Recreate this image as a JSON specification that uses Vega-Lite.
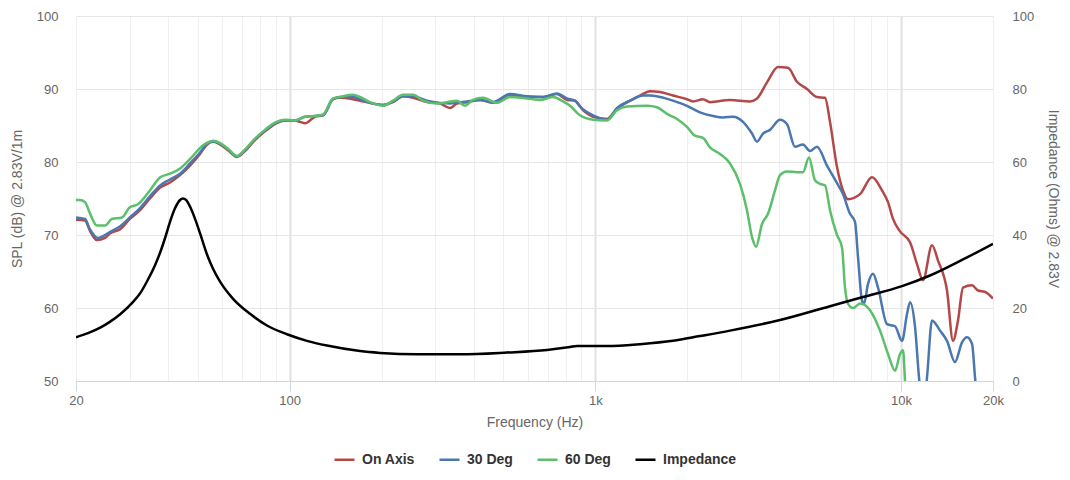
{
  "$schema": "https://vega.github.io/schema/vega-lite/v6.json",
  "width": 917,
  "height": 365,
  "autosize": {"type": "none"},
  "padding": {"left": 76, "top": 16, "right": 77, "bottom": 99},
  "config": {
    "font": "Liberation Sans",
    "view": {"stroke": null},
    "axis": {"labelColor": "#666666", "titleColor": "#666666", "labelFontSize": 13, "titleFontSize": 14, "titleFontWeight": "normal"}
  },
  "datasets": {
    "spl": [
      {"series": "On Axis", "freq": 20, "db": 72.1},
      {"series": "On Axis", "freq": 21.4, "db": 72.0},
      {"series": "On Axis", "freq": 22.2, "db": 70.6},
      {"series": "On Axis", "freq": 23.4, "db": 69.3},
      {"series": "On Axis", "freq": 24.9, "db": 69.6},
      {"series": "On Axis", "freq": 25.8, "db": 70.2},
      {"series": "On Axis", "freq": 27.9, "db": 70.8},
      {"series": "On Axis", "freq": 30.0, "db": 72.2},
      {"series": "On Axis", "freq": 32.4, "db": 73.4},
      {"series": "On Axis", "freq": 34.9, "db": 75.0},
      {"series": "On Axis", "freq": 37.7, "db": 76.5},
      {"series": "On Axis", "freq": 40.6, "db": 77.2},
      {"series": "On Axis", "freq": 43.8, "db": 78.2},
      {"series": "On Axis", "freq": 47.2, "db": 79.5},
      {"series": "On Axis", "freq": 50.9, "db": 81.1},
      {"series": "On Axis", "freq": 53.7, "db": 82.4},
      {"series": "On Axis", "freq": 56.1, "db": 82.8},
      {"series": "On Axis", "freq": 59.2, "db": 82.4},
      {"series": "On Axis", "freq": 62.9, "db": 81.6},
      {"series": "On Axis", "freq": 67.3, "db": 80.7},
      {"series": "On Axis", "freq": 71.4, "db": 81.5},
      {"series": "On Axis", "freq": 77.0, "db": 83.0},
      {"series": "On Axis", "freq": 83.0, "db": 84.2},
      {"series": "On Axis", "freq": 89.5, "db": 85.2},
      {"series": "On Axis", "freq": 96.5, "db": 85.7},
      {"series": "On Axis", "freq": 104.1, "db": 85.7},
      {"series": "On Axis", "freq": 108.1, "db": 85.5},
      {"series": "On Axis", "freq": 112.3, "db": 85.3},
      {"series": "On Axis", "freq": 121, "db": 86.2},
      {"series": "On Axis", "freq": 128.6, "db": 86.4},
      {"series": "On Axis", "freq": 138.6, "db": 88.6},
      {"series": "On Axis", "freq": 146.1, "db": 88.8},
      {"series": "On Axis", "freq": 161.1, "db": 88.6},
      {"series": "On Axis", "freq": 169.9, "db": 88.4},
      {"series": "On Axis", "freq": 187.3, "db": 88.0},
      {"series": "On Axis", "freq": 202, "db": 87.8},
      {"series": "On Axis", "freq": 217.8, "db": 88.2},
      {"series": "On Axis", "freq": 234.9, "db": 89.0},
      {"series": "On Axis", "freq": 253.3, "db": 88.8},
      {"series": "On Axis", "freq": 281.4, "db": 88.2},
      {"series": "On Axis", "freq": 310.4, "db": 88.0},
      {"series": "On Axis", "freq": 334.6, "db": 87.4},
      {"series": "On Axis", "freq": 352.7, "db": 88.0},
      {"series": "On Axis", "freq": 380.3, "db": 88.2},
      {"series": "On Axis", "freq": 419.4, "db": 88.5},
      {"series": "On Axis", "freq": 462.6, "db": 88.1},
      {"series": "On Axis", "freq": 525.7, "db": 89.2},
      {"series": "On Axis", "freq": 597.7, "db": 88.9},
      {"series": "On Axis", "freq": 674.3, "db": 88.9},
      {"series": "On Axis", "freq": 749.3, "db": 89.3},
      {"series": "On Axis", "freq": 807.9, "db": 88.5},
      {"series": "On Axis", "freq": 858, "db": 88.4},
      {"series": "On Axis", "freq": 911.1, "db": 87.1},
      {"series": "On Axis", "freq": 982.7, "db": 86.2},
      {"series": "On Axis", "freq": 1092, "db": 85.9},
      {"series": "On Axis", "freq": 1178, "db": 87.3},
      {"series": "On Axis", "freq": 1299, "db": 88.4},
      {"series": "On Axis", "freq": 1400, "db": 89.1},
      {"series": "On Axis", "freq": 1509, "db": 89.7},
      {"series": "On Axis", "freq": 1628, "db": 89.6},
      {"series": "On Axis", "freq": 1795, "db": 89.1},
      {"series": "On Axis", "freq": 1995, "db": 88.6},
      {"series": "On Axis", "freq": 2087, "db": 88.3},
      {"series": "On Axis", "freq": 2250, "db": 88.6},
      {"series": "On Axis", "freq": 2372, "db": 88.2},
      {"series": "On Axis", "freq": 2758, "db": 88.5},
      {"series": "On Axis", "freq": 3206, "db": 88.3},
      {"series": "On Axis", "freq": 3381, "db": 88.7},
      {"series": "On Axis", "freq": 3644, "db": 90.9},
      {"series": "On Axis", "freq": 3960, "db": 93.0},
      {"series": "On Axis", "freq": 4268, "db": 92.9},
      {"series": "On Axis", "freq": 4568, "db": 91.0},
      {"series": "On Axis", "freq": 4927, "db": 90.0},
      {"series": "On Axis", "freq": 5312, "db": 88.9},
      {"series": "On Axis", "freq": 5642, "db": 88.8},
      {"series": "On Axis", "freq": 5858, "db": 85.5},
      {"series": "On Axis", "freq": 6176, "db": 79.3},
      {"series": "On Axis", "freq": 6460, "db": 76.1},
      {"series": "On Axis", "freq": 6709, "db": 74.9},
      {"series": "On Axis", "freq": 7344, "db": 75.6},
      {"series": "On Axis", "freq": 8039, "db": 77.9},
      {"series": "On Axis", "freq": 8670, "db": 76.1},
      {"series": "On Axis", "freq": 9070, "db": 74.5},
      {"series": "On Axis", "freq": 9418, "db": 72.2},
      {"series": "On Axis", "freq": 9929, "db": 70.5},
      {"series": "On Axis", "freq": 10706, "db": 69.0},
      {"series": "On Axis", "freq": 11284, "db": 66.0},
      {"series": "On Axis", "freq": 11804, "db": 63.8},
      {"series": "On Axis", "freq": 12632, "db": 68.6},
      {"series": "On Axis", "freq": 13217, "db": 66.5},
      {"series": "On Axis", "freq": 14144, "db": 62.4},
      {"series": "On Axis", "freq": 14797, "db": 55.5},
      {"series": "On Axis", "freq": 15366, "db": 58.3},
      {"series": "On Axis", "freq": 15954, "db": 62.8},
      {"series": "On Axis", "freq": 17076, "db": 63.1},
      {"series": "On Axis", "freq": 17864, "db": 62.4},
      {"series": "On Axis", "freq": 18830, "db": 62.2},
      {"series": "On Axis", "freq": 20000, "db": 61.3},

      {"series": "30 Deg", "freq": 20, "db": 72.4},
      {"series": "30 Deg", "freq": 21.4, "db": 72.2},
      {"series": "30 Deg", "freq": 22.2, "db": 70.8},
      {"series": "30 Deg", "freq": 23.6, "db": 69.6},
      {"series": "30 Deg", "freq": 25.8, "db": 70.4},
      {"series": "30 Deg", "freq": 27.9, "db": 71.2},
      {"series": "30 Deg", "freq": 30.0, "db": 72.4},
      {"series": "30 Deg", "freq": 32.4, "db": 73.7},
      {"series": "30 Deg", "freq": 34.9, "db": 75.3},
      {"series": "30 Deg", "freq": 37.7, "db": 76.8},
      {"series": "30 Deg", "freq": 40.6, "db": 77.6},
      {"series": "30 Deg", "freq": 43.8, "db": 78.4},
      {"series": "30 Deg", "freq": 47.2, "db": 79.8},
      {"series": "30 Deg", "freq": 50.9, "db": 81.3},
      {"series": "30 Deg", "freq": 53.7, "db": 82.5},
      {"series": "30 Deg", "freq": 56.1, "db": 82.8},
      {"series": "30 Deg", "freq": 59.2, "db": 82.5},
      {"series": "30 Deg", "freq": 62.9, "db": 81.7},
      {"series": "30 Deg", "freq": 67.3, "db": 80.8},
      {"series": "30 Deg", "freq": 71.4, "db": 81.6},
      {"series": "30 Deg", "freq": 77.0, "db": 83.1},
      {"series": "30 Deg", "freq": 83.0, "db": 84.3},
      {"series": "30 Deg", "freq": 89.5, "db": 85.3},
      {"series": "30 Deg", "freq": 96.5, "db": 85.7},
      {"series": "30 Deg", "freq": 104.1, "db": 85.7},
      {"series": "30 Deg", "freq": 112.3, "db": 86.2},
      {"series": "30 Deg", "freq": 121, "db": 86.3},
      {"series": "30 Deg", "freq": 128.6, "db": 86.4},
      {"series": "30 Deg", "freq": 138.6, "db": 88.6},
      {"series": "30 Deg", "freq": 146.1, "db": 88.9},
      {"series": "30 Deg", "freq": 161.1, "db": 88.9},
      {"series": "30 Deg", "freq": 169.9, "db": 88.6},
      {"series": "30 Deg", "freq": 187.3, "db": 88.0},
      {"series": "30 Deg", "freq": 202, "db": 87.8},
      {"series": "30 Deg", "freq": 217.8, "db": 88.3},
      {"series": "30 Deg", "freq": 234.9, "db": 89.0},
      {"series": "30 Deg", "freq": 253.3, "db": 89.0},
      {"series": "30 Deg", "freq": 281.4, "db": 88.4},
      {"series": "30 Deg", "freq": 310.4, "db": 88.1},
      {"series": "30 Deg", "freq": 334.6, "db": 88.0},
      {"series": "30 Deg", "freq": 352.7, "db": 88.1},
      {"series": "30 Deg", "freq": 380.3, "db": 88.3},
      {"series": "30 Deg", "freq": 419.4, "db": 88.5},
      {"series": "30 Deg", "freq": 462.6, "db": 88.2},
      {"series": "30 Deg", "freq": 525.7, "db": 89.3},
      {"series": "30 Deg", "freq": 597.7, "db": 89.0},
      {"series": "30 Deg", "freq": 674.3, "db": 88.9},
      {"series": "30 Deg", "freq": 749.3, "db": 89.4},
      {"series": "30 Deg", "freq": 807.9, "db": 88.7},
      {"series": "30 Deg", "freq": 858, "db": 88.4},
      {"series": "30 Deg", "freq": 890.8, "db": 87.6},
      {"series": "30 Deg", "freq": 982.7, "db": 86.4},
      {"series": "30 Deg", "freq": 1092, "db": 85.8},
      {"series": "30 Deg", "freq": 1178, "db": 87.4},
      {"series": "30 Deg", "freq": 1299, "db": 88.4},
      {"series": "30 Deg", "freq": 1432, "db": 89.1},
      {"series": "30 Deg", "freq": 1509, "db": 89.1},
      {"series": "30 Deg", "freq": 1628, "db": 88.9},
      {"series": "30 Deg", "freq": 1795, "db": 88.4},
      {"series": "30 Deg", "freq": 1995, "db": 87.7},
      {"series": "30 Deg", "freq": 2200, "db": 86.8},
      {"series": "30 Deg", "freq": 2427, "db": 86.3},
      {"series": "30 Deg", "freq": 2616, "db": 86.1},
      {"series": "30 Deg", "freq": 2821, "db": 86.2},
      {"series": "30 Deg", "freq": 3042, "db": 85.5},
      {"series": "30 Deg", "freq": 3256, "db": 83.9},
      {"series": "30 Deg", "freq": 3381, "db": 82.8},
      {"series": "30 Deg", "freq": 3537, "db": 83.9},
      {"series": "30 Deg", "freq": 3728, "db": 84.4},
      {"series": "30 Deg", "freq": 4020, "db": 85.8},
      {"series": "30 Deg", "freq": 4237, "db": 85.2},
      {"series": "30 Deg", "freq": 4499, "db": 82.1},
      {"series": "30 Deg", "freq": 4780, "db": 82.4},
      {"series": "30 Deg", "freq": 5038, "db": 81.5},
      {"series": "30 Deg", "freq": 5312, "db": 82.1},
      {"series": "30 Deg", "freq": 5728, "db": 79.5},
      {"series": "30 Deg", "freq": 6176, "db": 77.1},
      {"series": "30 Deg", "freq": 6460, "db": 75.6},
      {"series": "30 Deg", "freq": 6811, "db": 72.9},
      {"series": "30 Deg", "freq": 7072, "db": 71.8},
      {"series": "30 Deg", "freq": 7234, "db": 67.0},
      {"series": "30 Deg", "freq": 7456, "db": 61.0},
      {"series": "30 Deg", "freq": 7569, "db": 60.6},
      {"series": "30 Deg", "freq": 7800, "db": 63.3},
      {"series": "30 Deg", "freq": 8100, "db": 64.7},
      {"series": "30 Deg", "freq": 8412, "db": 62.8},
      {"series": "30 Deg", "freq": 9001, "db": 57.8},
      {"series": "30 Deg", "freq": 9561, "db": 57.5},
      {"series": "30 Deg", "freq": 10080, "db": 55.5},
      {"series": "30 Deg", "freq": 10467, "db": 59.2},
      {"series": "30 Deg", "freq": 10706, "db": 60.8},
      {"series": "30 Deg", "freq": 11117, "db": 57.4},
      {"series": "30 Deg", "freq": 11454, "db": 50.5},
      {"series": "30 Deg", "freq": 11804, "db": 46.0},
      {"series": "30 Deg", "freq": 12166, "db": 50.5},
      {"series": "30 Deg", "freq": 12632, "db": 58.3},
      {"series": "30 Deg", "freq": 13418, "db": 56.9},
      {"series": "30 Deg", "freq": 14144, "db": 55.5},
      {"series": "30 Deg", "freq": 15022, "db": 52.6},
      {"series": "30 Deg", "freq": 15836, "db": 55.3},
      {"series": "30 Deg", "freq": 16444, "db": 56.0},
      {"series": "30 Deg", "freq": 17076, "db": 55.1},
      {"series": "30 Deg", "freq": 17466, "db": 50.5},
      {"series": "30 Deg", "freq": 17864, "db": 46.0},

      {"series": "60 Deg", "freq": 20, "db": 74.8},
      {"series": "60 Deg", "freq": 20.6, "db": 74.8},
      {"series": "60 Deg", "freq": 21.4, "db": 74.5},
      {"series": "60 Deg", "freq": 22.2, "db": 73.0},
      {"series": "60 Deg", "freq": 23.4, "db": 71.3},
      {"series": "60 Deg", "freq": 24.9, "db": 71.3},
      {"series": "60 Deg", "freq": 26.2, "db": 72.2},
      {"series": "60 Deg", "freq": 28.3, "db": 72.4},
      {"series": "60 Deg", "freq": 30.0, "db": 73.8},
      {"series": "60 Deg", "freq": 31.9, "db": 74.2},
      {"series": "60 Deg", "freq": 34.9, "db": 76.1},
      {"series": "60 Deg", "freq": 37.7, "db": 77.9},
      {"series": "60 Deg", "freq": 40.6, "db": 78.4},
      {"series": "60 Deg", "freq": 43.8, "db": 79.1},
      {"series": "60 Deg", "freq": 47.2, "db": 80.4},
      {"series": "60 Deg", "freq": 52.1, "db": 82.3},
      {"series": "60 Deg", "freq": 54.9, "db": 82.8},
      {"series": "60 Deg", "freq": 56.1, "db": 82.9},
      {"series": "60 Deg", "freq": 59.2, "db": 82.6},
      {"series": "60 Deg", "freq": 62.9, "db": 81.8},
      {"series": "60 Deg", "freq": 67.3, "db": 80.8},
      {"series": "60 Deg", "freq": 71.4, "db": 81.7},
      {"series": "60 Deg", "freq": 77.0, "db": 83.2},
      {"series": "60 Deg", "freq": 83.0, "db": 84.4},
      {"series": "60 Deg", "freq": 89.5, "db": 85.4},
      {"series": "60 Deg", "freq": 96.5, "db": 85.8},
      {"series": "60 Deg", "freq": 104.1, "db": 85.7},
      {"series": "60 Deg", "freq": 112.3, "db": 86.2},
      {"series": "60 Deg", "freq": 121, "db": 86.3},
      {"series": "60 Deg", "freq": 128.6, "db": 86.5},
      {"series": "60 Deg", "freq": 138.6, "db": 88.7},
      {"series": "60 Deg", "freq": 146.1, "db": 88.9},
      {"series": "60 Deg", "freq": 161.1, "db": 89.2},
      {"series": "60 Deg", "freq": 169.9, "db": 88.9},
      {"series": "60 Deg", "freq": 183.2, "db": 88.2},
      {"series": "60 Deg", "freq": 202, "db": 87.7},
      {"series": "60 Deg", "freq": 217.8, "db": 88.4},
      {"series": "60 Deg", "freq": 234.9, "db": 89.2},
      {"series": "60 Deg", "freq": 253.3, "db": 89.2},
      {"series": "60 Deg", "freq": 273.1, "db": 88.4},
      {"series": "60 Deg", "freq": 303.4, "db": 88.0},
      {"series": "60 Deg", "freq": 327.2, "db": 88.2},
      {"series": "60 Deg", "freq": 352.7, "db": 88.4},
      {"series": "60 Deg", "freq": 374.6, "db": 87.7},
      {"series": "60 Deg", "freq": 397.9, "db": 88.5},
      {"series": "60 Deg", "freq": 429, "db": 88.8},
      {"series": "60 Deg", "freq": 476.7, "db": 88.1},
      {"series": "60 Deg", "freq": 525.7, "db": 88.9},
      {"series": "60 Deg", "freq": 597.7, "db": 88.7},
      {"series": "60 Deg", "freq": 659.2, "db": 88.5},
      {"series": "60 Deg", "freq": 727, "db": 88.9},
      {"series": "60 Deg", "freq": 783.8, "db": 88.3},
      {"series": "60 Deg", "freq": 826.3, "db": 87.7},
      {"series": "60 Deg", "freq": 890.8, "db": 86.4},
      {"series": "60 Deg", "freq": 982.7, "db": 85.8},
      {"series": "60 Deg", "freq": 1092, "db": 85.7},
      {"series": "60 Deg", "freq": 1178, "db": 87.1},
      {"series": "60 Deg", "freq": 1270, "db": 87.6},
      {"series": "60 Deg", "freq": 1476, "db": 87.7},
      {"series": "60 Deg", "freq": 1591, "db": 87.5},
      {"series": "60 Deg", "freq": 1716, "db": 86.6},
      {"series": "60 Deg", "freq": 1850, "db": 85.9},
      {"series": "60 Deg", "freq": 1995, "db": 84.8},
      {"series": "60 Deg", "freq": 2119, "db": 83.6},
      {"series": "60 Deg", "freq": 2250, "db": 83.3},
      {"series": "60 Deg", "freq": 2372, "db": 82.0},
      {"series": "60 Deg", "freq": 2558, "db": 81.1},
      {"series": "60 Deg", "freq": 2758, "db": 79.8},
      {"series": "60 Deg", "freq": 2974, "db": 77.0},
      {"series": "60 Deg", "freq": 3134, "db": 73.4},
      {"series": "60 Deg", "freq": 3256, "db": 69.7},
      {"series": "60 Deg", "freq": 3356, "db": 68.4},
      {"series": "60 Deg", "freq": 3510, "db": 71.5},
      {"series": "60 Deg", "freq": 3672, "db": 72.9},
      {"series": "60 Deg", "freq": 3871, "db": 76.1},
      {"series": "60 Deg", "freq": 4020, "db": 78.2},
      {"series": "60 Deg", "freq": 4237, "db": 78.7},
      {"series": "60 Deg", "freq": 4568, "db": 78.6},
      {"series": "60 Deg", "freq": 4780, "db": 78.6},
      {"series": "60 Deg", "freq": 5000, "db": 80.6},
      {"series": "60 Deg", "freq": 5232, "db": 77.5},
      {"series": "60 Deg", "freq": 5433, "db": 77.0},
      {"series": "60 Deg", "freq": 5642, "db": 76.8},
      {"series": "60 Deg", "freq": 5858, "db": 73.4},
      {"series": "60 Deg", "freq": 6176, "db": 70.0},
      {"series": "60 Deg", "freq": 6412, "db": 68.3},
      {"series": "60 Deg", "freq": 6559, "db": 62.8},
      {"series": "60 Deg", "freq": 6709, "db": 60.6},
      {"series": "60 Deg", "freq": 6966, "db": 60.0},
      {"series": "60 Deg", "freq": 7344, "db": 60.6},
      {"series": "60 Deg", "freq": 7919, "db": 59.7},
      {"series": "60 Deg", "freq": 8540, "db": 56.9},
      {"series": "60 Deg", "freq": 9070, "db": 53.7},
      {"series": "60 Deg", "freq": 9561, "db": 51.4},
      {"series": "60 Deg", "freq": 9929, "db": 53.7},
      {"series": "60 Deg", "freq": 10156, "db": 54.2},
      {"series": "60 Deg", "freq": 10310, "db": 50.0},
      {"series": "60 Deg", "freq": 10467, "db": 46.0}
    ],
    "imp": [
      {"series": "Impedance", "freq": 20, "ohms": 12.0},
      {"series": "Impedance", "freq": 21.9, "ohms": 13.1},
      {"series": "Impedance", "freq": 24.0, "ohms": 14.6},
      {"series": "Impedance", "freq": 25.8, "ohms": 16.2},
      {"series": "Impedance", "freq": 27.9, "ohms": 18.3},
      {"series": "Impedance", "freq": 30.7, "ohms": 21.6},
      {"series": "Impedance", "freq": 32.4, "ohms": 24.0},
      {"series": "Impedance", "freq": 34.1, "ohms": 27.2},
      {"series": "Impedance", "freq": 36.3, "ohms": 31.8},
      {"series": "Impedance", "freq": 37.7, "ohms": 35.2},
      {"series": "Impedance", "freq": 39.4, "ohms": 40.0},
      {"series": "Impedance", "freq": 40.6, "ohms": 43.6},
      {"series": "Impedance", "freq": 42.2, "ohms": 47.4},
      {"series": "Impedance", "freq": 43.8, "ohms": 49.6},
      {"series": "Impedance", "freq": 44.8, "ohms": 50.0},
      {"series": "Impedance", "freq": 45.8, "ohms": 49.6},
      {"series": "Impedance", "freq": 47.2, "ohms": 47.8},
      {"series": "Impedance", "freq": 49.0, "ohms": 44.5},
      {"series": "Impedance", "freq": 50.9, "ohms": 40.5},
      {"series": "Impedance", "freq": 53.7, "ohms": 34.6},
      {"series": "Impedance", "freq": 56.1, "ohms": 30.8},
      {"series": "Impedance", "freq": 59.2, "ohms": 27.2},
      {"series": "Impedance", "freq": 65.3, "ohms": 22.5},
      {"series": "Impedance", "freq": 74.2, "ohms": 18.4},
      {"series": "Impedance", "freq": 84.3, "ohms": 15.2},
      {"series": "Impedance", "freq": 98.0, "ohms": 12.8},
      {"series": "Impedance", "freq": 113.9, "ohms": 11.0},
      {"series": "Impedance", "freq": 132.5, "ohms": 9.7},
      {"series": "Impedance", "freq": 169.9, "ohms": 8.2},
      {"series": "Impedance", "freq": 197.5, "ohms": 7.7},
      {"series": "Impedance", "freq": 261, "ohms": 7.3},
      {"series": "Impedance", "freq": 360.8, "ohms": 7.3},
      {"series": "Impedance", "freq": 514, "ohms": 7.8},
      {"series": "Impedance", "freq": 695, "ohms": 8.5},
      {"series": "Impedance", "freq": 826.3, "ohms": 9.3},
      {"series": "Impedance", "freq": 871, "ohms": 9.6},
      {"series": "Impedance", "freq": 960.8, "ohms": 9.6},
      {"series": "Impedance", "freq": 1092, "ohms": 9.6},
      {"series": "Impedance", "freq": 1400, "ohms": 10.1},
      {"series": "Impedance", "freq": 1795, "ohms": 11.0},
      {"series": "Impedance", "freq": 2200, "ohms": 12.3},
      {"series": "Impedance", "freq": 2758, "ohms": 13.8},
      {"series": "Impedance", "freq": 4020, "ohms": 16.7},
      {"series": "Impedance", "freq": 5858, "ohms": 20.5},
      {"series": "Impedance", "freq": 7512, "ohms": 23.0},
      {"series": "Impedance", "freq": 10080, "ohms": 26.0},
      {"series": "Impedance", "freq": 12444, "ohms": 28.9},
      {"series": "Impedance", "freq": 15954, "ohms": 33.3},
      {"series": "Impedance", "freq": 20000, "ohms": 37.6}
    ]
  },
  "encoding": {
    "x": {
      "field": "freq",
      "type": "quantitative",
      "scale": {"type": "log", "domain": [20, 20000], "nice": false},
      "axis": {
        "title": "Frequency (Hz)",
        "values": [20, 30, 40, 50, 60, 70, 80, 90, 100, 200, 300, 400, 500, 600, 700, 800, 900, 1000, 2000, 3000, 4000, 5000, 6000, 7000, 8000, 9000, 10000, 20000],
        "labelExpr": "datum.value == 20 ? '20' : datum.value == 100 ? '100' : datum.value == 1000 ? '1k' : datum.value == 10000 ? '10k' : datum.value == 20000 ? '20k' : ''",
        "labelOverlap": false,
        "labelFlush": false,
        "grid": true,
        "gridColor": {"condition": {"test": "datum.value == 100 || datum.value == 1000 || datum.value == 10000", "value": "#e2e2e2"}, "value": "#efefef"},
        "gridWidth": {"condition": {"test": "datum.value == 100 || datum.value == 1000 || datum.value == 10000", "value": 2}, "value": 1},
        "domainColor": "#ccd6eb",
        "tickColor": {"condition": {"test": "datum.value == 20 || datum.value == 100 || datum.value == 1000 || datum.value == 10000 || datum.value == 20000", "value": "#ccd6eb"}, "value": "transparent"},
        "tickSize": 10,
        "labelPadding": 3,
        "titlePadding": 8
      }
    },
    "color": {
      "field": "series",
      "type": "nominal",
      "scale": {"domain": ["On Axis", "30 Deg", "60 Deg", "Impedance"], "range": ["#b34848", "#4a78ae", "#5cbf6c", "#000000"]},
      "legend": {
        "title": null,
        "orient": "none",
        "legendX": 257,
        "legendY": 432,
        "direction": "horizontal",
        "symbolType": "stroke",
        "symbolSize": 400,
        "symbolStrokeWidth": 2.5,
        "labelFontSize": 14,
        "labelFontWeight": "bold",
        "labelColor": "#333333",
        "labelOffset": 6,
        "columnPadding": 19
      }
    }
  },
  "layer": [
    {
      "data": {"name": "spl"},
      "encoding": {
        "y": {
          "field": "db",
          "type": "quantitative",
          "scale": {"domain": [50, 100], "nice": false, "zero": false},
          "axis": {
            "orient": "left",
            "title": "SPL (dB) @ 2.83V/1m",
            "values": [50, 60, 70, 80, 90, 100],
            "grid": true,
            "gridColor": "#e6e6e6",
            "domain": false,
            "ticks": false,
            "labelPadding": 18,
            "titlePadding": 12
          }
        }
      },
      "layer": [
        {"transform": [{"filter": "datum.series === 'On Axis'"}], "mark": {"type": "line", "strokeWidth": 2.5, "interpolate": "monotone", "clip": true}},
        {"transform": [{"filter": "datum.series === '30 Deg'"}], "mark": {"type": "line", "strokeWidth": 2.5, "interpolate": "monotone", "clip": true}},
        {"transform": [{"filter": "datum.series === '60 Deg'"}], "mark": {"type": "line", "strokeWidth": 2.5, "interpolate": "monotone", "clip": true}}
      ]
    },
    {
      "data": {"name": "imp"},
      "mark": {"type": "line", "strokeWidth": 2.5, "interpolate": "monotone", "clip": true},
      "encoding": {
        "y": {
          "field": "ohms",
          "type": "quantitative",
          "scale": {"domain": [0, 100], "nice": false},
          "axis": {
            "orient": "right",
            "title": "Impedance (Ohms) @ 2.83V",
            "values": [0, 20, 40, 60, 80, 100],
            "grid": false,
            "domain": false,
            "ticks": false,
            "labelPadding": 19,
            "titlePadding": 12
          }
        }
      }
    }
  ],
  "resolve": {"scale": {"y": "independent"}}
}
